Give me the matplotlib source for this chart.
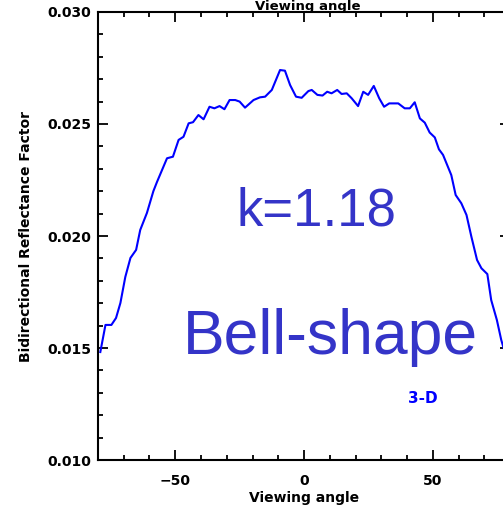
import matplotlib
matplotlib.use("Agg")
import matplotlib.pyplot as plt
from matplotlib.ticker import MultipleLocator
from matplotlib.transforms import Bbox

# BRF profile across the principal plane
angle = [-79.1, -77.1, -74.8, -73.0, -71.3, -69.4, -67.4, -65.2, -63.6, -61.0,
         -58.5, -57.1, -53.2, -50.9, -48.7, -46.8, -44.8, -43.1, -41.0, -39.0,
         -36.7, -34.8, -32.8, -30.9, -28.9, -26.7, -25.0, -22.9, -19.6, -17.1,
         -15.1, -12.5, -9.3, -7.4, -5.4, -3.1, -0.9, 1.7, 3.0, 5.2,
         7.2, 9.0, 10.7, 12.9, 14.6, 16.6, 18.5, 21.0, 23.0, 24.9,
         27.1, 29.2, 31.1, 33.1, 36.6, 39.1, 41.1, 43.0, 45.0, 46.9,
         48.8, 50.8, 52.4, 54.0, 57.2, 58.9, 61.1, 63.1, 65.0, 67.2,
         68.9, 71.2, 72.7, 74.9, 76.6, 77.5]
brf = [0.01482, 0.01603, 0.01603, 0.01634, 0.01701, 0.01817, 0.01902, 0.01938, 0.02027, 0.02103,
       0.02200, 0.02241, 0.02347, 0.02354, 0.02429, 0.02443, 0.02503, 0.02508, 0.02540, 0.02521,
       0.02577, 0.02570, 0.02580, 0.02566, 0.02607, 0.02607, 0.02600, 0.02573, 0.02607, 0.02619,
       0.02622, 0.02652, 0.02741, 0.02738, 0.02674, 0.02622, 0.02617, 0.02647, 0.02652, 0.02630,
       0.02627, 0.02644, 0.02637, 0.02652, 0.02634, 0.02637, 0.02615, 0.02580, 0.02644, 0.02630,
       0.02670, 0.02615, 0.02577, 0.02592, 0.02592, 0.02570, 0.02570, 0.02597, 0.02525, 0.02506,
       0.02462, 0.02440, 0.02387, 0.02362, 0.02272, 0.02183, 0.02146, 0.02094, 0.01997, 0.01893,
       0.01856, 0.01830, 0.01714, 0.01625, 0.01536, 0.01500]

k_label = "k=1.18"
shape_label = "Bell-shape"
model_label = "3-D"

fig = plt.figure(figsize=(5.03, 5.12), dpi=100)
ax = fig.add_axes([98 / 503, 52 / 512, 412 / 503, 448 / 512])

ax.plot(angle, brf, color="#0000ff", lw=1.5)

ax.set_xlim(-80, 80)
ax.set_ylim(0.010, 0.030)
ax.xaxis.set_major_locator(MultipleLocator(50))
ax.xaxis.set_minor_locator(MultipleLocator(10))
ax.yaxis.set_major_locator(MultipleLocator(0.005))
ax.yaxis.set_minor_locator(MultipleLocator(0.001))
ax.yaxis.set_major_formatter(plt.FormatStrFormatter("%.3f"))

ax.tick_params(which="both", direction="in", top=True, right=True, width=1.3)
ax.tick_params(which="major", length=7)
ax.tick_params(which="minor", length=3.6)
ax.tick_params(axis="x", which="major", pad=10)
ax.tick_params(axis="y", which="major", pad=5)
for lab in ax.get_xticklabels() + ax.get_yticklabels():
    lab.set_fontweight("bold")
    lab.set_fontsize(10)
for sp in ax.spines.values():
    sp.set_linewidth(1.5)

ax.set_xlabel("Viewing angle", fontsize=10, fontweight="bold", labelpad=2)
ax.set_ylabel("Bidirectional Reflectance Factor", fontsize=10, fontweight="bold", labelpad=10)

# top axis title, descenders hidden by the upper frame
top = fig.text(308 / 503, 1 - 10 / 512, "Viewing angle", ha="center", va="baseline",
               fontsize=9.5, fontweight="bold")
top.set_clip_box(Bbox.from_extents(0, 512 - 11, 503, 512))
top.set_clip_on(True)

ann = "#3434c8"
ax.text(4.7, 0.02049, k_label, ha="center", va="baseline", color=ann,
        fontsize=38, family="Liberation Sans")
ax.text(10.1, 0.01473, shape_label, ha="center", va="baseline", color=ann,
        fontsize=45, family="Liberation Sans")
ax.text(46.1, 0.01254, model_label, ha="center", va="baseline", color="#0000ff",
        fontsize=11, fontweight="bold")

fig.savefig("out.png", dpi=100)
